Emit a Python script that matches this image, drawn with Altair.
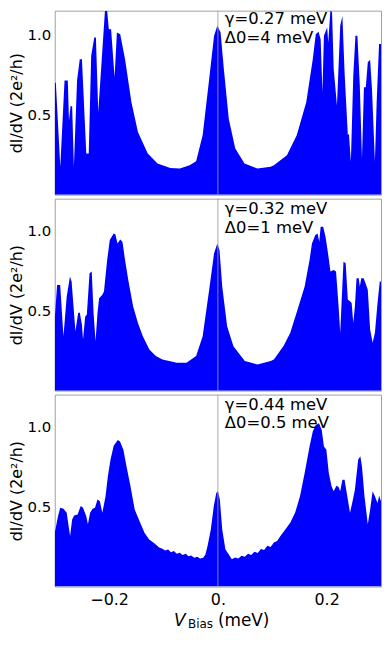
import altair as alt
import pandas as pd

# ---- data ----
bias_p1 = [-0.3, -0.298, -0.2898, -0.282, -0.276, -0.2738, -0.271, -0.268, -0.2648, -0.259,
           -0.254, -0.250, -0.242, -0.2375, -0.233, -0.2273, -0.2243, -0.220, -0.2077, -0.2036,
           -0.2005, -0.1964, -0.190, -0.1857, -0.1796, -0.1707, -0.159, -0.147, -0.129, -0.111,
           -0.0875, -0.070, -0.052, -0.040, -0.028, -0.016, -0.007, -0.001, 0.005, 0.011,
           0.020, 0.032, 0.049, 0.073, 0.097, 0.103, 0.127, 0.145, 0.1625, 0.1745,
           0.180, 0.185, 0.189, 0.1923, 0.195, 0.201, 0.203, 0.207, 0.210, 0.213,
           0.219, 0.225, 0.229, 0.233, 0.239, 0.241, 0.2446, 0.249, 0.253, 0.2566,
           0.261, 0.265, 0.2686, 0.272, 0.2757, 0.280, 0.2834, 0.2888, 0.292, 0.2964, 0.3]
didv_p1 = [0.70, 0.70, 0.174, 0.713, 0.713, 0.464, 0.553, 0.553, 0.174, 0.713,
           0.847, 0.847, 0.257, 0.257, 0.868, 0.982, 0.982, 0.516, 1.148, 1.148,
           1.034, 1.034, 0.734, 1.013, 1.003, 0.847, 0.578, 0.392, 0.257, 0.195,
           0.167, 0.163, 0.184, 0.209, 0.371, 0.723, 0.993, 1.055, 1.014, 0.785,
           0.474, 0.288, 0.195, 0.163, 0.174, 0.184, 0.246, 0.371, 0.578, 0.847,
           1.003, 1.018, 0.972, 0.640, 0.993, 1.045, 0.951, 1.154, 1.138, 0.785,
           0.557, 1.055, 1.117, 0.765, 0.371, 0.381, 0.205, 0.744, 0.993, 0.993,
           0.682, 0.226, 0.671, 0.671, 0.827, 0.843, 0.661, 0.205, 0.578, 0.941, 0.941]

bias_p2 = [-0.3, -0.2957, -0.290, -0.284, -0.278, -0.272, -0.269, -0.262, -0.257, -0.254,
           -0.250, -0.248, -0.244, -0.241, -0.236, -0.232, -0.2286, -0.225, -0.2214, -0.2184,
           -0.2125, -0.2095, -0.2036, -0.1988, -0.1916, -0.1886, -0.1845, -0.1796, -0.1755, -0.1707,
           -0.1648, -0.1559, -0.147, -0.138, -0.126, -0.114, -0.102, -0.0755, -0.0577, -0.040,
           -0.028, -0.016, -0.007, -0.001, 0.003, 0.008, 0.017, 0.0286, 0.0495, 0.073,
           0.097, 0.103, 0.121, 0.133, 0.145, 0.1596, 0.1686, 0.173, 0.179, 0.1834,
           0.1864, 0.189, 0.1936, 0.198, 0.203, 0.207, 0.213, 0.2173, 0.222, 0.225,
           0.228, 0.231, 0.235, 0.239, 0.243, 0.246, 0.249, 0.252, 0.255, 0.259,
           0.261, 0.2637, 0.268, 0.2714, 0.2757, 0.280, 0.2846, 0.2888, 0.2936, 0.2977, 0.3]
didv_p2 = [0.45, 0.661, 0.661, 0.340, 0.589, 0.713, 0.682, 0.371, 0.485, 0.489,
           0.412, 0.319, 0.464, 0.474, 0.734, 0.744, 0.485, 0.309, 0.485, 0.578,
           0.599, 0.620, 0.817, 0.941, 0.982, 0.978, 0.920, 0.945, 0.930, 0.817,
           0.692, 0.527, 0.423, 0.340, 0.257, 0.216, 0.195, 0.174, 0.174, 0.216,
           0.340, 0.630, 0.858, 0.920, 0.879, 0.651, 0.402, 0.278, 0.185, 0.164,
           0.185, 0.195, 0.280, 0.360, 0.490, 0.651, 0.817, 0.920, 0.972, 0.982,
           0.930, 1.024, 1.024, 0.962, 0.848, 0.744, 0.754, 0.744, 0.527, 0.361,
           0.589, 0.806, 0.796, 0.568, 0.558, 0.547, 0.423, 0.527, 0.703, 0.703,
           0.651, 0.703, 0.703, 0.672, 0.630, 0.382, 0.299, 0.361, 0.547, 0.682, 0.682]

bias_p3 = [-0.3, -0.294, -0.290, -0.284, -0.278, -0.2754, -0.2718, -0.268, -0.2643, -0.258,
           -0.2523, -0.248, -0.242, -0.239, -0.235, -0.2304, -0.226, -0.2214, -0.217, -0.2125,
           -0.2066, -0.2023, -0.1975, -0.1916, -0.184, -0.180, -0.1738, -0.168, -0.1607, -0.153,
           -0.144, -0.135, -0.1264, -0.117, -0.108, -0.102, -0.097, -0.0915, -0.0863, -0.081,
           -0.0755, -0.070, -0.065, -0.059, -0.054, -0.049, -0.0434, -0.038, -0.0327, -0.027,
           -0.0229, -0.019, -0.013, -0.0075, -0.003, 0.0, 0.0036, 0.008, 0.0138, 0.0257,
           0.0316, 0.0375, 0.0436, 0.0495, 0.0554, 0.0614, 0.0673, 0.0732, 0.0793, 0.085,
           0.091, 0.097, 0.103, 0.109, 0.115, 0.124, 0.133, 0.142, 0.151, 0.1596,
           0.1686, 0.1745, 0.180, 0.186, 0.191, 0.195, 0.1995, 0.204, 0.209, 0.213,
           0.218, 0.222, 0.225, 0.229, 0.233, 0.237, 0.243, 0.247, 0.252, 0.258,
           0.262, 0.265, 0.2696, 0.2757, 0.280, 0.2846, 0.2888, 0.2936, 0.2966, 0.3]
didv_p3 = [0.337, 0.440, 0.492, 0.486, 0.461, 0.399, 0.316, 0.420, 0.445, 0.451,
           0.503, 0.492, 0.440, 0.389, 0.461, 0.486, 0.492, 0.544, 0.534, 0.461,
           0.565, 0.689, 0.793, 0.880, 0.917, 0.907, 0.855, 0.751, 0.627, 0.482,
           0.409, 0.337, 0.295, 0.271, 0.244, 0.237, 0.225, 0.232, 0.215, 0.222,
           0.205, 0.212, 0.198, 0.205, 0.190, 0.195, 0.180, 0.186, 0.175, 0.180,
           0.200, 0.254, 0.357, 0.503, 0.585, 0.596, 0.544, 0.357, 0.233, 0.171,
           0.182, 0.175, 0.192, 0.186, 0.205, 0.198, 0.218, 0.210, 0.235, 0.228,
           0.255, 0.248, 0.275, 0.285, 0.316, 0.357, 0.399, 0.461, 0.565, 0.710,
           0.876, 0.969, 1.010, 1.021, 0.979, 0.876, 0.855, 0.710, 0.627, 0.596,
           0.631, 0.623, 0.596, 0.668, 0.668, 0.585, 0.461, 0.523, 0.606, 0.793,
           0.814, 0.751, 0.565, 0.389, 0.482, 0.596, 0.565, 0.523, 0.568, 0.534]

gamma_labels = ["γ=0.27 meV", "γ=0.32 meV", "γ=0.44 meV"]
delta_labels = ["Δ0=4 meV", "Δ0=1 meV", "Δ0=0.5 meV"]
y_title = "dI/dV (2e²/h)"
x_title_parts = ["V", "Bias", "(meV)"]
x_ticks = [-0.2, 0.0, 0.2]
y_ticks = [0.5, 1.0]

FONT = "DejaVu Sans"
BLUE = "#0000ff"
W = 328


def panel(bias, didv, gamma, delta, height, ymax, text_y, bottom):
    df = pd.DataFrame({"bias": bias, "didv": didv})
    xscale = alt.Scale(domain=[-0.3, 0.3], nice=False, zero=False)
    if bottom:
        xaxis = alt.Axis(values=x_ticks, title=None, grid=False, ticks=False, domain=False,
                         labelFontSize=16, labelFont=FONT, labelColor="black", labelPadding=5,
                         labelExpr="datum.value == 0 ? '0.' : format(datum.value, '.1f')")
    else:
        xaxis = None
    yaxis = alt.Axis(values=y_ticks, format=".1f", title=y_title, grid=False, ticks=False,
                     domain=False, labelFontSize=15, labelFont=FONT, labelColor="black",
                     labelPadding=4, titleFontSize=16, titleFont=FONT, titleFontWeight="normal",
                     titleColor="black", titleX=-38, titleY=height / 2, titleAngle=-90,
                     titleAlign="center", titleBaseline="middle")
    area = alt.Chart(df).mark_area(color=BLUE, clip=True, interpolate="linear").encode(
        x=alt.X("bias:Q", scale=xscale, axis=xaxis),
        y=alt.Y("didv:Q", scale=alt.Scale(domain=[0, ymax], nice=False), axis=yaxis),
    )
    rule = alt.Chart(pd.DataFrame({"bias": [0.0]})).mark_rule(
        color="#9a9a9a", strokeWidth=1, opacity=0.85
    ).encode(x=alt.X("bias:Q", scale=xscale, axis=xaxis))
    t1 = alt.Chart(pd.DataFrame({"label": [gamma]})).mark_text(
        align="left", baseline="middle", fontSize=16.5, font=FONT, color="black"
    ).encode(x=alt.value(171), y=alt.value(text_y[0]), text="label:N")
    t2 = alt.Chart(pd.DataFrame({"label": [delta]})).mark_text(
        align="left", baseline="middle", fontSize=16.5, font=FONT, color="black"
    ).encode(x=alt.value(171), y=alt.value(text_y[1]), text="label:N")
    layers = [area, rule, t1, t2]
    if bottom:
        v = alt.Chart(pd.DataFrame({"label": [x_title_parts[0]]})).mark_text(
            align="left", baseline="alphabetic", fontSize=17, font=FONT, fontStyle="italic",
            color="black").encode(x=alt.value(120), y=alt.value(233), text="label:N")
        b = alt.Chart(pd.DataFrame({"label": [x_title_parts[1]]})).mark_text(
            align="left", baseline="alphabetic", fontSize=12, font=FONT,
            color="black").encode(x=alt.value(134), y=alt.value(235), text="label:N")
        m = alt.Chart(pd.DataFrame({"label": [x_title_parts[2]]})).mark_text(
            align="left", baseline="alphabetic", fontSize=17, font=FONT,
            color="black").encode(x=alt.value(164), y=alt.value(233), text="label:N")
        layers += [v, b, m]
    return alt.layer(*layers).properties(width=W, height=height)


p1 = panel(bias_p1, didv_p1, gamma_labels[0], delta_labels[0], 185, 1.15, (8.5, 27.5), False)
p2 = panel(bias_p2, didv_p2, gamma_labels[1], delta_labels[1], 193, 1.2, (10, 30), False)
p3 = panel(bias_p3, didv_p3, gamma_labels[2], delta_labels[2], 193, 1.2, (10, 29), True)

chart = alt.vconcat(p1, p2, p3, spacing=2).properties(
    autosize=alt.AutoSizeParams(type="pad"),
    padding={"left": 0, "top": 0, "right": 0, "bottom": 0},
).configure(font=FONT).configure_view(stroke="#a0a0a0", strokeWidth=1)

chart.save("out.html", embed_options={"renderer": "svg", "actions": False})
